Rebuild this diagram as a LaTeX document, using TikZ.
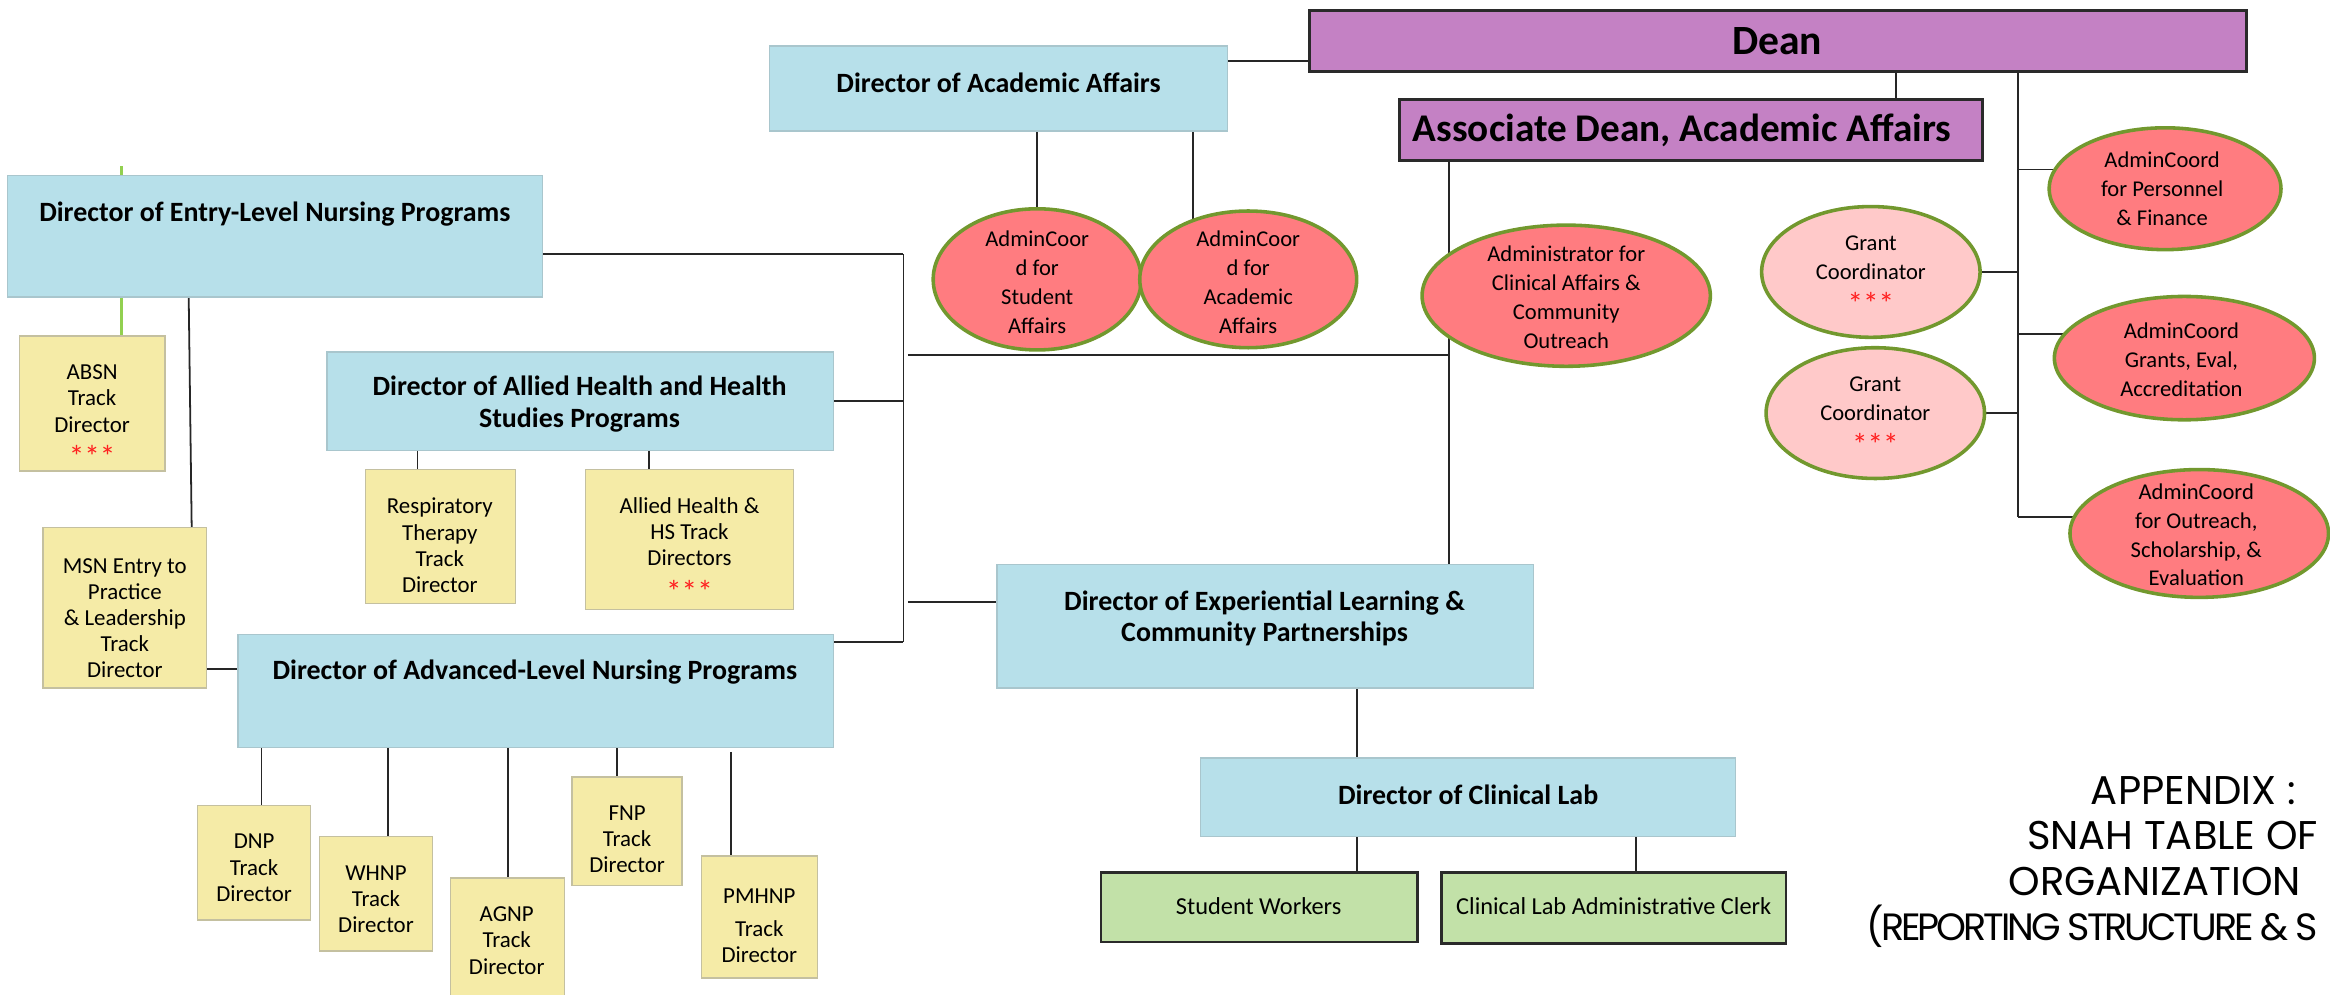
\documentclass[tikz,border=0pt]{standalone}
\usepackage{fontspec}
\setmainfont{Carlito}
\newfontfamily\appfont{Poppins}
\newfontfamily\appfonttight{Poppins}[LetterSpace=-8]
\usetikzlibrary{shapes.geometric,fit}
\definecolor{blueF}{HTML}{B7E0EA}
\definecolor{blueD}{HTML}{A9C6CD}
\definecolor{yelF}{HTML}{F5EBA7}
\definecolor{yelD}{HTML}{C4C0A0}
\definecolor{purF}{HTML}{C481C4}
\definecolor{purD}{HTML}{2A2A2A}
\definecolor{redF}{HTML}{FF7C80}
\definecolor{pinkF}{HTML}{FFC9C9}
\definecolor{ellD}{HTML}{72982E}
\definecolor{grnF}{HTML}{C2E1A8}
\definecolor{greenC}{HTML}{92D050}
\definecolor{starC}{HTML}{FF2020}
\newcommand\redstars{{\color{starC}\fontsize{10.5}{9}\selectfont\raisebox{-2pt}{***}}}
\pgfdeclarelayer{bg}
\pgfsetlayers{bg,main}
\begin{document}
\begin{tikzpicture}[x=0.5pt,y=-0.5pt,
  bluebox/.style={draw=blueD, line width=0.5pt, fill=blueF, inner sep=0pt},
  purplebox/.style={draw=purD, line width=1pt, fill=purF, inner sep=0pt},
  yellowbox/.style={draw=yelD, line width=0.5pt, fill=yelF, inner sep=0pt},
  greenbox/.style={draw=purD, line width=0.9pt, fill=grnF, inner sep=0pt},
  redell/.style={ellipse, draw=ellD, line width=1.2pt, fill=redF, inner sep=0pt},
  pinkell/.style={redell, fill=pinkF},
  ttl/.style={font=\fontsize{9.4}{10.6}\selectfont\bfseries, align=center, inner sep=0pt},
  big/.style={font=\fontsize{14}{16}\selectfont\bfseries, inner sep=0pt},
  smlY/.style={font=\fontsize{7.7}{8.8}\selectfont, align=center, inner sep=0pt},
  smlE/.style={font=\fontsize{7.6}{9.7}\selectfont, align=center, inner sep=0pt},
  grn/.style={font=\fontsize{8.2}{10}\selectfont, inner sep=0pt},
  conn/.style={draw=black!85, line width=0.6pt},
  gconn/.style={draw=greenC, line width=1pt},
  app/.style={font=\appfont\fontsize{13.5}{15}\selectfont, inner sep=0pt}]
\useasboundingbox (0,0) rectangle (1568,669);
\clip (0,0) rectangle (1568,669);

% purple boxes
\node[purplebox, fit={(881,7) (1512,48)}] (dean) {};
\node[big] (deanT) at (1196,28) {Dean};
\node[purplebox, fit={(942,67) (1334,108)}] (assoc) {};
\node[big, font=\fontsize{13.2}{15}\selectfont\bfseries] (assocT) at (1132,88) {Associate Dean, Academic Affairs};

% blue boxes
\node[bluebox, fit={(518,31) (826,88)}] (daa) {};
\node[ttl] (daaT) at (672,56) {Director of Academic Affairs};
\node[bluebox, fit={(5,118) (365,200)}] (entry) {};
\node[ttl] (entryT) at (185,144) {Director of Entry-Level Nursing Programs};
\node[bluebox, fit={(220,237) (561,303)}] (allied) {};
\node[ttl] (alliedT) at (390,272) {Director of Allied Health and Health\\Studies Programs};
\node[bluebox, fit={(160,427) (561,503)}] (adv) {};
\node[ttl] (advT) at (360,452) {Director of Advanced-Level Nursing Programs};
\node[bluebox, fit={(671,380) (1032,463)}] (dexp) {};
\node[ttl] (dexpT) at (851,416) {Director of Experiential Learning \&\\Community Partnerships};
\node[bluebox, fit={(808,510) (1168,563)}] (clab) {};
\node[ttl] (clabT) at (988,535) {Director of Clinical Lab};

% green boxes
\node[greenbox, fit={(741,587) (954,634)}] (sw) {};
\node[grn] (swT) at (847,610) {Student Workers};
\node[greenbox, fit={(970,587) (1202,635)}] (clerk) {};
\node[grn] (clerkT) at (1086,610) {Clinical Lab Administrative Clerk};

% yellow boxes
\node[yellowbox, fit={(13,226) (111,317)}] (absn) {};
\node[smlY] (absnT) at (62,280) {ABSN\\Track\\Director\\[1pt]\redstars};
\node[yellowbox, fit={(29,355) (139,463)}] (msn) {};
\node[smlY] (msnT) at (84,416) {MSN Entry to\\Practice\\\& Leadership\\Track\\Director};
\node[yellowbox, fit={(246,316) (347,406)}] (resp) {};
\node[smlY] (respT) at (296,367) {Respiratory\\Therapy\\Track\\Director};
\node[yellowbox, fit={(394,316) (534,410)}] (ahs) {};
\node[smlY] (ahsT) at (464,370) {Allied Health \&\\HS Track\\Directors\\[1.5pt]\redstars};
\node[yellowbox, fit={(133,542) (209,619)}] (dnp) {};
\node[smlY] (dnpT) at (171,584) {DNP\\Track\\Director};
\node[yellowbox, fit={(215,563) (291,640)}] (whnp) {};
\node[smlY] (whnpT) at (253,605) {WHNP\\Track\\Director};
\node[yellowbox, fit={(303,591) (380,680)}] (agnp) {};
\node[smlY] (agnpT) at (341,633) {AGNP\\Track\\Director};
\node[yellowbox, fit={(385,523) (459,596)}] (fnp) {};
\node[smlY] (fnpT) at (422,565) {FNP\\Track\\Director};
\node[yellowbox, fit={(472,576) (550,658)}] (pmh) {};
\node[smlY] (pmhT) at (511,623) {PMHNP\\[2.5pt]Track\\Director};

% ellipses
\node[redell, minimum width=70pt, minimum height=47.5pt] (acsa) at (698,188) {};
\node[smlE] (acsaT) at (698,190) {AdminCoor\\d for\\Student\\Affairs};
\node[redell, minimum width=73pt, minimum height=46pt] (acaa) at (840,188) {};
\node[smlE] (acaaT) at (840,190) {AdminCoor\\d for\\Academic\\Affairs};
\node[redell, minimum width=97pt, minimum height=47.5pt] (acco) at (1054,199) {};
\node[smlE] (accoT) at (1054,200) {Administrator for\\Clinical Affairs \&\\Community\\Outreach};
\node[pinkell, minimum width=73.5pt, minimum height=44pt] (gc1) at (1259,183) {};
\node[smlE] (gc1T) at (1259,185) {Grant\\Coordinator\\\redstars};
\node[pinkell, minimum width=73.5pt, minimum height=44pt] (gc2) at (1262,278) {};
\node[smlE] (gc2T) at (1262,280) {Grant\\Coordinator\\\redstars};
\node[redell, minimum width=78pt, minimum height=41pt] (acpf) at (1457,127) {};
\node[smlE] (acpfT) at (1455,127) {AdminCoord\\for Personnel\\\& Finance};
\node[redell, minimum width=87.5pt, minimum height=41.5pt] (acge) at (1470,241) {};
\node[smlE] (acgeT) at (1468,242) {AdminCoord\\Grants, Eval,\\Accreditation};
\node[redell, minimum width=87pt, minimum height=43pt] (acos) at (1480,359) {};
\node[smlE] (acosT) at (1478,360) {AdminCoord\\for Outreach,\\Scholarship, \&\\Evaluation};

% appendix title
\node[app] (ap1) at (1476,532) {APPENDIX :};
\node[app] (ap2) at (1462,562) {SNAH TABLE OF};
\node[app] (ap3) at (1450,593) {ORGANIZATION};
\node[app, font=\appfonttight\fontsize{12.8}{15}\selectfont, anchor=west] (ap4) at (1256,623) {(REPORTING STRUCTURE \& S};

% connectors
\begin{pgfonlayer}{bg}
\coordinate (yDD) at (850,41);
\draw[conn] (daa.east |- yDD) -- (dean.west |- yDD);
\coordinate (xDA) at (1276,0);
\draw[conn] (dean.south -| xDA) -- (assoc.north -| xDA);
\draw[conn] (daa.south -| acsa.north) -- (acsa.north);
\coordinate (xA) at (803,0);
\draw[conn] (daa.south -| xA) -- (acaa.center -| xA);
\coordinate (xT) at (975,0);
\draw[conn] (assoc.south -| xT) -- (dexp.north -| xT);
\coordinate (hL) at (611,239);
\coordinate (hR) at (975,239);
\draw[conn] (hL) -- (hR);
\coordinate (lt1) at (608,171);
\coordinate (lt2) at (608,432);
\draw[conn] (lt1) -- (lt2);
\draw[conn] (entry.east |- lt1) -- (lt1);
\coordinate (la) at (608,270);
\draw[conn] (allied.east |- la) -- (la);
\draw[conn] (adv.east |- lt2) -- (lt2);
\coordinate (le) at (611,405);
\draw[conn] (le) -- (dexp.west |- le);
\coordinate (xg) at (82,0);
\coordinate (gs) at (82,112);
\draw[gconn] (entry.south -| xg) -- (absn.north -| xg);
\draw[gconn] (gs) -- (entry.north -| gs);
\coordinate (xm1) at (127,0);
\coordinate (xm2) at (129,0);
\draw[conn] (entry.south -| xm1) -- (msn.north -| xm2);
\coordinate (ym) at (0,450);
\draw[conn] (msn.east |- ym) -- (adv.west |- ym);
\coordinate (xr) at (281,0);
\draw[conn] (allied.south -| xr) -- (resp.north -| xr);
\coordinate (xh) at (437,0);
\draw[conn] (allied.south -| xh) -- (ahs.north -| xh);
\coordinate (x1) at (176,0);
\draw[conn] (adv.south -| x1) -- (dnp.north -| x1);
\coordinate (x2) at (261,0);
\draw[conn] (adv.south -| x2) -- (whnp.north -| x2);
\coordinate (x3) at (342,0);
\draw[conn] (adv.south -| x3) -- (agnp.north -| x3);
\coordinate (x4) at (415,0);
\draw[conn] (adv.south -| x4) -- (fnp.north -| x4);
\coordinate (x5) at (492,506);
\draw[conn] (x5) -- (pmh.north -| x5);
\coordinate (xc) at (913,0);
\draw[conn] (dexp.south -| xc) -- (clab.north -| xc);
\draw[conn] (clab.south -| xc) -- (sw.north -| xc);
\coordinate (xk) at (1101,0);
\draw[conn] (clab.south -| xk) -- (clerk.north -| xk);
\coordinate (rtEnd) at (1358,348);
\draw[conn] (dean.south -| rtEnd) -- (rtEnd);
\coordinate (rb1) at (1358,114);
\draw[conn] (rb1) -- (acpf.center |- rb1);
\coordinate (rb2) at (1358,225);
\draw[conn] (rb2) -- (acge.center |- rb2);
\draw[conn] (rtEnd) -- (acos.center |- rtEnd);
\draw[conn] (gc1.east) -- (gc1.east -| rtEnd);
\draw[conn] (gc2.east) -- (gc2.east -| rtEnd);
\end{pgfonlayer}
\end{tikzpicture}
\end{document}
